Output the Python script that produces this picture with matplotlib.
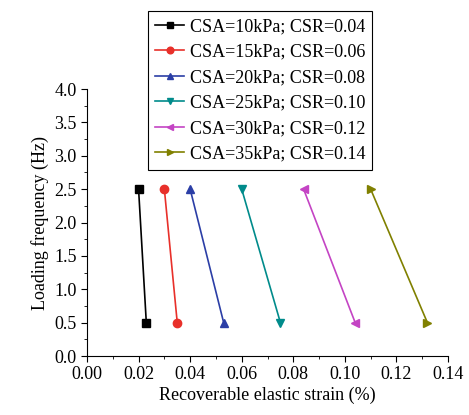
import matplotlib
matplotlib.use("Agg")
import matplotlib.pyplot as plt
from matplotlib.ticker import MultipleLocator, FormatStrFormatter

plt.rcParams['font.family'] = ['Liberation Serif', 'DejaVu Serif']

freq = [2.5, 0.5]
labels = ["CSA=10kPa; CSR=0.04", "CSA=15kPa; CSR=0.06", "CSA=20kPa; CSR=0.08",
          "CSA=25kPa; CSR=0.10", "CSA=30kPa; CSR=0.12", "CSA=35kPa; CSR=0.14"]
strain_10 = [0.020, 0.023]
strain_15 = [0.030, 0.035]
strain_20 = [0.040, 0.053]
strain_25 = [0.060, 0.075]
strain_30 = [0.084, 0.104]
strain_35 = [0.110, 0.132]
series = [strain_10, strain_15, strain_20, strain_25, strain_30, strain_35]
colors = ['black', '#e8302a', '#2b3ea6', '#008b8b', '#c444c4', '#808000']
markers = ['s', 'o', '^', 'v', '<', '>']

fig = plt.figure(figsize=(4.69, 4.15), dpi=100)
ax = fig.add_axes([87/469, 1-356/415, (448-87)/469, (356-89)/415])
for s, c, m, l in zip(series, colors, markers, labels):
    ax.plot(s, freq, color=c, marker=m, markersize=6, lw=1.2, label=l)

ax.set_xlim(0, 0.14)
ax.set_ylim(0, 4.0)
ax.xaxis.set_major_locator(MultipleLocator(0.02))
ax.xaxis.set_minor_locator(MultipleLocator(0.01))
ax.yaxis.set_major_locator(MultipleLocator(0.5))
ax.yaxis.set_minor_locator(MultipleLocator(0.25))
ax.xaxis.set_major_formatter(FormatStrFormatter('%.2f'))
ax.yaxis.set_major_formatter(FormatStrFormatter('%.1f'))
ax.spines['top'].set_visible(False)
ax.spines['right'].set_visible(False)
ax.tick_params(which='major', direction='out', length=4, labelsize=13)
ax.tick_params(which='minor', direction='out', length=2)
ax.set_xlabel('Recoverable elastic strain (%)', fontsize=13, labelpad=2)
ax.set_ylabel('Loading frequency (Hz)', fontsize=13, labelpad=4)

leg = fig.legend(loc='upper left', bbox_to_anchor=(148/469, 1-11/415), fontsize=13,
                 frameon=True, fancybox=False, edgecolor='black', framealpha=1,
                 handlelength=1.6, handletextpad=0.3, labelspacing=0.47,
                 borderpad=0.4, borderaxespad=0, markerscale=0.8)
leg.get_frame().set_linewidth(0.8)

fig.savefig('out.png', dpi=100)
